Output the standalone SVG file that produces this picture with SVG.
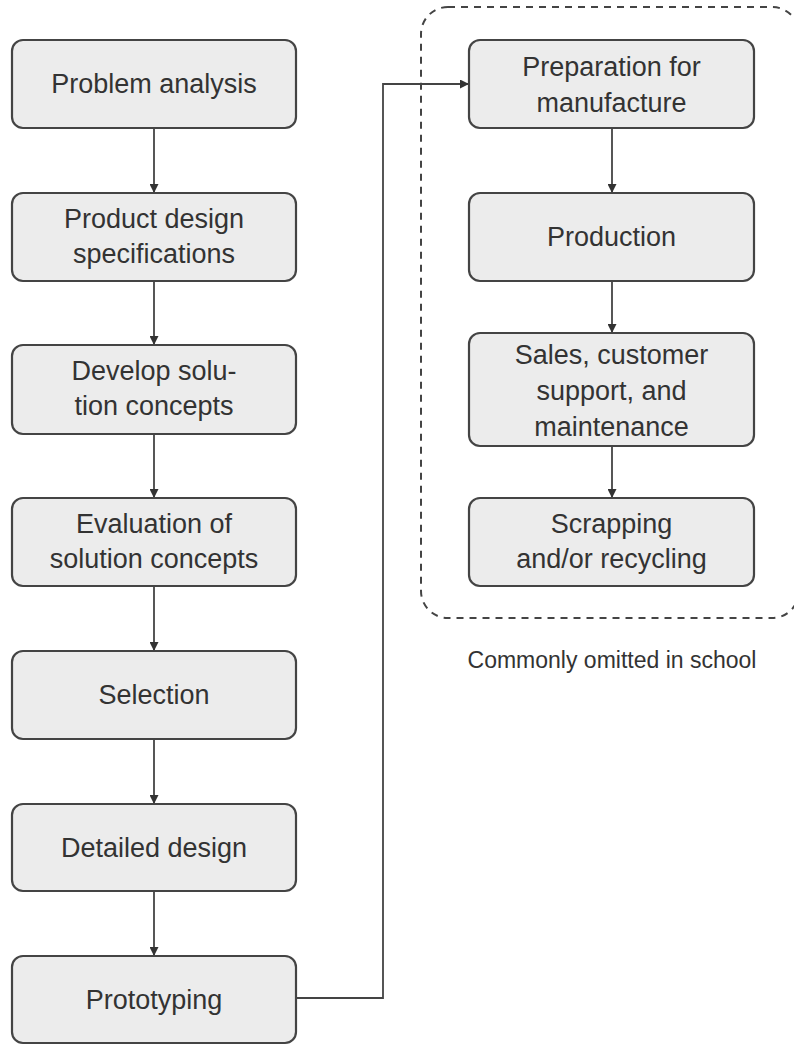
<svg xmlns="http://www.w3.org/2000/svg" width="794" height="1045" viewBox="0 0 794 1045">
<defs>
<style>
.box{fill:#ececec;stroke:#444;stroke-width:2.2}
.t{font-family:"Liberation Sans",Arial,sans-serif;font-size:27px;fill:#333;text-anchor:middle}
.lbl{font-family:"Liberation Sans",Arial,sans-serif;font-size:23px;fill:#333;text-anchor:middle}
.edge{fill:none;stroke:#444;stroke-width:1.8;marker-end:url(#ah)}
.group{fill:none;stroke:#444;stroke-width:2;stroke-dasharray:7 6}
</style>
<marker id="ah" viewBox="0 0 10 10" refX="10" refY="5" markerWidth="5" markerHeight="5" orient="auto" markerUnits="strokeWidth">
<path d="M0,0 L10,5 L0,10 z" fill="#333"/>
</marker>
</defs>
<rect class="group" x="421" y="7" width="378" height="611" rx="27"/>
<text class="lbl" x="612" y="668">Commonly omitted in school</text>
<g id="connectors">
<line class="edge" x1="154" y1="128" x2="154" y2="193"/>
<line class="edge" x1="154" y1="281" x2="154" y2="345"/>
<line class="edge" x1="154" y1="434" x2="154" y2="498"/>
<line class="edge" x1="154" y1="586" x2="154" y2="651"/>
<line class="edge" x1="154" y1="739" x2="154" y2="804"/>
<line class="edge" x1="154" y1="891" x2="154" y2="956"/>
<polyline class="edge" points="296,998 383,998 383,84 469,84"/>
<line class="edge" x1="612" y1="128" x2="612" y2="193"/>
<line class="edge" x1="612" y1="281" x2="612" y2="333"/>
<line class="edge" x1="612" y1="446" x2="612" y2="498"/>
</g>
<g id="n1"><rect class="box" x="12" y="40" width="284" height="88" rx="11"/><text class="t" x="154" y="93">Problem analysis</text></g>
<g id="n2"><rect class="box" x="12" y="193" width="284" height="88" rx="11"/><text class="t" x="154" y="228">Product design</text><text class="t" x="154" y="263">specifications</text></g>
<g id="n3"><rect class="box" x="12" y="345" width="284" height="89" rx="11"/><text class="t" x="154" y="380">Develop solu-</text><text class="t" x="154" y="415">tion concepts</text></g>
<g id="n4"><rect class="box" x="12" y="498" width="284" height="88" rx="11"/><text class="t" x="154" y="533">Evaluation of</text><text class="t" x="154" y="568">solution concepts</text></g>
<g id="n5"><rect class="box" x="12" y="651" width="284" height="88" rx="11"/><text class="t" x="154" y="704">Selection</text></g>
<g id="n6"><rect class="box" x="12" y="804" width="284" height="87" rx="11"/><text class="t" x="154" y="857">Detailed design</text></g>
<g id="n7"><rect class="box" x="12" y="956" width="284" height="87" rx="11"/><text class="t" x="154" y="1009">Prototyping</text></g>
<g id="n8"><rect class="box" x="469" y="40" width="285" height="88" rx="11"/><text class="t" x="611.5" y="76">Preparation for</text><text class="t" x="611.5" y="112">manufacture</text></g>
<g id="n9"><rect class="box" x="469" y="193" width="285" height="88" rx="11"/><text class="t" x="611.5" y="246">Production</text></g>
<g id="n10"><rect class="box" x="469" y="333" width="285" height="113" rx="11"/><text class="t" x="611.5" y="364">Sales, customer</text><text class="t" x="611.5" y="400">support, and</text><text class="t" x="611.5" y="436">maintenance</text></g>
<g id="n11"><rect class="box" x="469" y="498" width="285" height="88" rx="11"/><text class="t" x="611.5" y="533">Scrapping</text><text class="t" x="611.5" y="568">and/or recycling</text></g>
</svg>
